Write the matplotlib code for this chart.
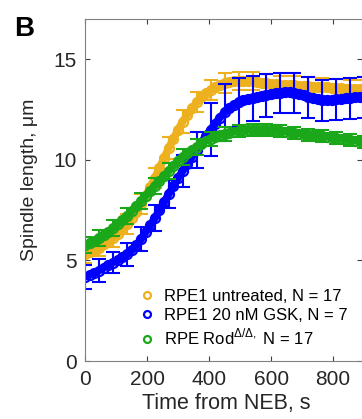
import matplotlib.pyplot as plt
import numpy as np
from matplotlib.lines import Line2D

plt.rcParams["font.family"] = ["Liberation Sans", "DejaVu Sans"]
plt.rcParams["mathtext.fontset"] = "custom"
plt.rcParams["mathtext.rm"] = "Liberation Sans"

# time from NEB, s (one frame every 15 s)
time_s = np.arange(0, 901, 15)

untreated = [5.3, 5.4, 5.5, 5.6, 5.8, 5.95, 6.1, 6.3, 6.55, 6.8,
             7.1, 7.4, 7.8, 8.2, 8.65, 9.1, 9.6, 10.1, 10.6, 11.05,
             11.5, 11.9, 12.25, 12.55, 12.85, 13.1, 13.3, 13.45, 13.6, 13.7,
             13.8, 13.85, 13.9, 13.9, 13.9, 13.9, 13.9, 13.85, 13.8, 13.8,
             13.75, 13.75, 13.7, 13.7, 13.7, 13.7, 13.65, 13.65, 13.65, 13.6,
             13.6, 13.6, 13.6, 13.55, 13.55, 13.55, 13.5, 13.5, 13.5, 13.5,
             13.5]
gsk = [4.2, 4.3, 4.4, 4.5, 4.65, 4.8, 4.9, 5.0, 5.15, 5.3,
       5.5, 5.75, 6.05, 6.4, 6.75, 7.1, 7.5, 7.9, 8.3, 8.7,
       9.1, 9.45, 9.8, 10.15, 10.5, 10.85, 11.2, 11.5, 11.8, 12.1,
       12.35, 12.55, 12.7, 12.85, 12.95, 13.0, 13.05, 13.1, 13.15, 13.2,
       13.25, 13.3, 13.3, 13.35, 13.35, 13.3, 13.25, 13.2, 13.1, 13.05,
       13.0, 12.95, 12.95, 12.95, 13.0, 13.0, 13.05, 13.05, 13.1, 13.1,
       13.1]
rod = [5.75, 5.85, 5.95, 6.1, 6.25, 6.4, 6.6, 6.8, 7.0, 7.2,
       7.45, 7.7, 7.95, 8.2, 8.45, 8.7, 8.95, 9.2, 9.45, 9.7,
       9.95, 10.15, 10.35, 10.5, 10.65, 10.8, 10.95, 11.05, 11.15, 11.25,
       11.3, 11.35, 11.4, 11.45, 11.5, 11.5, 11.5, 11.5, 11.5, 11.5,
       11.5, 11.45, 11.45, 11.4, 11.4, 11.35, 11.3, 11.3, 11.25, 11.25,
       11.2, 11.2, 11.15, 11.15, 11.1, 11.05, 11.0, 11.0, 10.95, 10.95,
       10.9]

# error bars shown every third frame
untreated_err = [0.4, 0.4, 0.45, 0.5, 0.5, 0.5, 0.55, 0.55, 0.5, 0.5, 0.5,
                 0.45, 0.45, 0.45, 0.45, 0.45, 0.45, 0.45, 0.45, 0.45, 0.45]
gsk_err = [0.6, 0.55, 0.5, 0.55, 0.6, 0.65, 0.7, 0.8, 0.9, 1.3, 1.4,
           1.2, 1.1, 1.05, 1.0, 1.0, 1.0, 1.0, 1.0, 1.0, 1.0]
rod_err = [0.4, 0.4, 0.4, 0.4, 0.4, 0.4, 0.4, 0.4, 0.4, 0.35, 0.35,
           0.3, 0.3, 0.3, 0.3, 0.3, 0.3, 0.3, 0.3, 0.3, 0.3]

labels = ["RPE1 untreated, N = 17", "RPE1 20 nM GSK, N = 7",
          r"RPE Rod$^{\Delta/\Delta,}$ N = 17"]
colors = ["#EDB120", "#0000FF", "#1AA81A"]

fig = plt.figure(figsize=(3.62, 4.19), dpi=100)
ax = fig.add_axes([0.235, 0.138, 0.765, 0.817])

err_t = time_s[::3]
for y, err, c in zip([untreated, gsk, rod], [untreated_err, gsk_err, rod_err], colors):
    y = np.array(y)
    ax.errorbar(err_t, y[::3], yerr=err, fmt="none", ecolor=c,
                elinewidth=1.5, capsize=5, capthick=1.5)
    ax.plot(time_s, y, "-", color=c, lw=5.5, solid_capstyle="round")
    ax.plot(time_s, y, "o", mfc="none", mec=c, ms=6.5, mew=1.6)

ax.set_xlim(0, 893)
ax.set_ylim(0, 17)
ax.set_xticks([0, 200, 400, 600, 800])
ax.set_yticks([0, 5, 10, 15])
ax.tick_params(direction="in", top=True, right=True, labelsize=15,
               colors="#404040", labelcolor="#262626", length=3.5)
ax.tick_params(axis="x", pad=6)
ax.tick_params(axis="y", pad=6)
for s in ax.spines.values():
    s.set_color("#808080")
ax.set_xlabel("Time from NEB, s", fontsize=15.5, color="#262626")
ax.set_ylabel("Spindle length, \u03bcm", fontsize=14, color="#262626")
ax.xaxis.set_label_coords(0.51, -0.093)
ax.yaxis.set_label_coords(-0.17, 0.53)

handles = [Line2D([], [], ls="none", marker="o", mfc="none", mec=c, ms=5, mew=1.6)
           for c in colors]
ax.legend(handles, labels, loc="lower left", bbox_to_anchor=(0.17, 0.02),
          frameon=False, fontsize=12, handlelength=1.0, handletextpad=0.5,
          labelspacing=0.25, borderaxespad=0)

fig.text(0.04, 0.915, "B", fontsize=20, fontweight="bold")

fig.savefig("out.png", dpi=100)
